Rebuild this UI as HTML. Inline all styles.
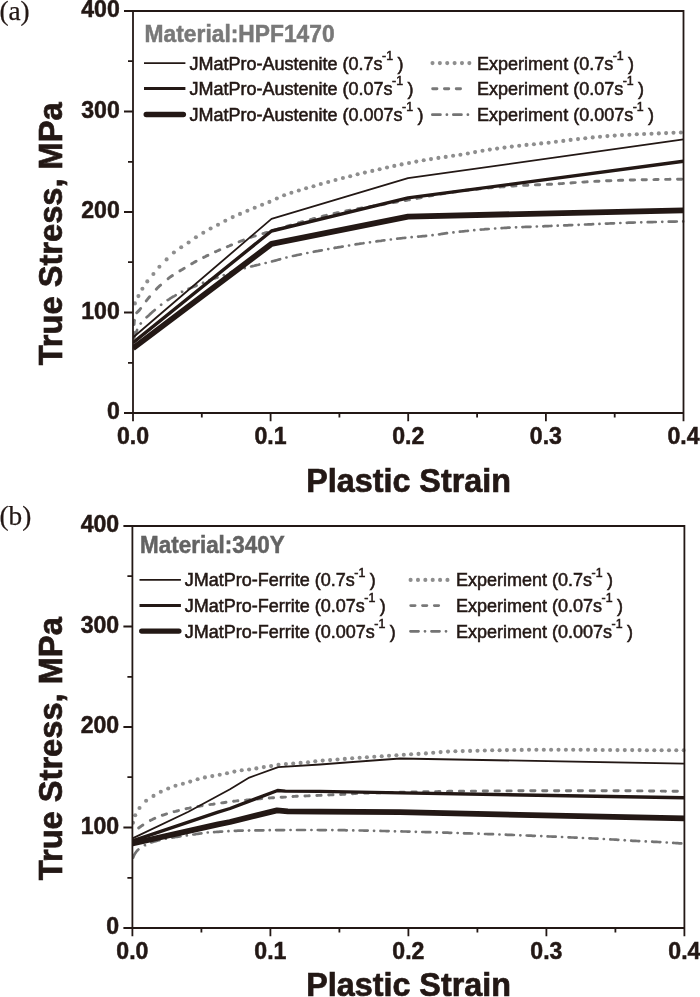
<!DOCTYPE html>
<html lang="en"><head><meta charset="utf-8"><title>True stress vs plastic strain</title>
<style>
html,body{margin:0;padding:0;background:#fff;}
body{width:700px;height:997px;overflow:hidden;}
svg{display:block;}
text{font-family:"Liberation Sans",Arial,Helvetica,sans-serif;fill:#231815;}
.tk{font-weight:bold;font-size:23.1px;stroke:#231815;stroke-width:0.5px;}
.ax{font-weight:bold;font-size:32.3px;stroke:#231815;stroke-width:0.7px;}
.ti{font-weight:bold;font-size:23.2px;stroke-width:0.5px;}
.lg{font-size:18px;stroke:#231815;stroke-width:0.55px;}
.sp{font-size:12.4px;}
.pl{font-family:"Liberation Serif","Times New Roman",serif;font-size:27.3px;stroke:#231815;stroke-width:0.25px;}
</style></head><body>
<svg width="700" height="997" viewBox="0 0 700 997">
<rect width="700" height="997" fill="#fff"/>
<text class="pl" x="-0.6" y="20.1">(a)</text>
<text class="pl" x="-0.6" y="525">(b)</text>
<clipPath id="ca"><rect x="133.0" y="11.0" width="551.7" height="402.0"/></clipPath>
<g clip-path="url(#ca)" fill="none">
<g fill="#8e8e8e" stroke="none"><circle cx="134.9" cy="303.4" r="2.05"/><circle cx="138.4" cy="296.1" r="2.05"/><circle cx="142.4" cy="288.7" r="2.05"/><circle cx="147.3" cy="281.4" r="2.05"/><circle cx="153.4" cy="274.0" r="2.05"/><circle cx="159.4" cy="266.7" r="2.05"/><circle cx="166.6" cy="259.4" r="2.05"/><circle cx="173.9" cy="252.5" r="2.05"/><circle cx="181.2" cy="247.3" r="2.05"/><circle cx="188.6" cy="242.5" r="2.05"/><circle cx="195.9" cy="237.3" r="2.05"/><circle cx="203.3" cy="232.7" r="2.05"/><circle cx="210.6" cy="228.5" r="2.05"/><circle cx="218.0" cy="224.7" r="2.05"/><circle cx="225.3" cy="220.8" r="2.05"/><circle cx="232.7" cy="217.1" r="2.05"/><circle cx="240.0" cy="213.9" r="2.05"/><circle cx="247.4" cy="210.8" r="2.05"/><circle cx="254.7" cy="207.8" r="2.05"/><circle cx="262.1" cy="204.7" r="2.05"/><circle cx="269.4" cy="201.9" r="2.05"/><circle cx="276.8" cy="198.5" r="2.05"/><circle cx="284.1" cy="195.3" r="2.05"/><circle cx="291.4" cy="192.8" r="2.05"/><circle cx="298.8" cy="190.5" r="2.05"/><circle cx="306.1" cy="188.3" r="2.05"/><circle cx="313.5" cy="186.2" r="2.05"/><circle cx="320.8" cy="184.0" r="2.05"/><circle cx="328.2" cy="182.0" r="2.05"/><circle cx="335.5" cy="180.0" r="2.05"/><circle cx="342.9" cy="178.0" r="2.05"/><circle cx="350.2" cy="176.2" r="2.05"/><circle cx="357.6" cy="174.3" r="2.05"/><circle cx="364.9" cy="172.6" r="2.05"/><circle cx="372.3" cy="170.9" r="2.05"/><circle cx="379.6" cy="169.2" r="2.05"/><circle cx="387.0" cy="167.5" r="2.05"/><circle cx="394.3" cy="165.9" r="2.05"/><circle cx="401.6" cy="164.4" r="2.05"/><circle cx="409.0" cy="163.0" r="2.05"/><circle cx="416.3" cy="161.6" r="2.05"/><circle cx="423.7" cy="160.3" r="2.05"/><circle cx="431.0" cy="159.1" r="2.05"/><circle cx="438.4" cy="157.9" r="2.05"/><circle cx="445.7" cy="156.9" r="2.05"/><circle cx="453.1" cy="155.8" r="2.05"/><circle cx="460.4" cy="154.7" r="2.05"/><circle cx="467.8" cy="153.5" r="2.05"/><circle cx="475.1" cy="152.1" r="2.05"/><circle cx="482.5" cy="150.8" r="2.05"/><circle cx="489.8" cy="149.6" r="2.05"/><circle cx="497.1" cy="148.6" r="2.05"/><circle cx="504.5" cy="147.6" r="2.05"/><circle cx="511.8" cy="146.6" r="2.05"/><circle cx="519.2" cy="145.7" r="2.05"/><circle cx="526.5" cy="144.9" r="2.05"/><circle cx="533.9" cy="144.2" r="2.05"/><circle cx="541.2" cy="143.4" r="2.05"/><circle cx="548.6" cy="142.7" r="2.05"/><circle cx="555.9" cy="141.8" r="2.05"/><circle cx="563.3" cy="140.9" r="2.05"/><circle cx="570.6" cy="139.9" r="2.05"/><circle cx="578.0" cy="139.1" r="2.05"/><circle cx="585.3" cy="138.2" r="2.05"/><circle cx="592.7" cy="137.4" r="2.05"/><circle cx="600.0" cy="136.7" r="2.05"/><circle cx="607.4" cy="136.1" r="2.05"/><circle cx="614.7" cy="135.6" r="2.05"/><circle cx="622.0" cy="135.1" r="2.05"/><circle cx="629.4" cy="134.7" r="2.05"/><circle cx="636.8" cy="134.3" r="2.05"/><circle cx="644.1" cy="134.0" r="2.05"/><circle cx="651.5" cy="133.7" r="2.05"/><circle cx="658.8" cy="133.4" r="2.05"/><circle cx="666.1" cy="133.1" r="2.05"/><circle cx="673.5" cy="132.8" r="2.05"/><circle cx="680.9" cy="132.5" r="2.05"/></g>
<path d="M133.5,336.4 L133.5,336.4 L133.5,334.8 L133.6,333.1 L133.6,332.1 M134.1,324.6 L134.1,324.5 L134.2,322.9 L134.3,321.3 L134.5,320.3 M136.7,312.8 L136.7,312.8 L137.9,311.6 L139.1,310.4 L140.1,309.2 L140.6,308.5 M146.2,301.0 L146.2,300.9 L147.2,299.7 L148.2,298.4 L149.2,297.2 L149.6,296.7 M156.3,289.2 L156.3,289.2 L157.4,288.0 L158.6,286.9 L159.7,285.8 L160.6,285.1 M168.1,278.7 L168.2,278.6 L169.4,277.7 L170.7,276.7 L172.0,275.8 L172.4,275.6 M179.9,271.0 L179.9,270.9 L181.3,270.1 L182.7,269.3 L184.0,268.4 L184.2,268.3 M191.7,263.8 L191.8,263.7 L193.2,262.9 L194.6,262.1 L196.0,261.4 L196.1,261.3 M203.6,257.4 L203.6,257.4 L205.1,256.7 L206.5,255.9 L207.9,255.3 M215.4,251.7 L215.6,251.7 L217.1,251.0 L218.6,250.4 L219.8,249.8 M227.3,246.7 L227.5,246.6 L229.0,246.0 L230.4,245.4 L231.6,244.9 M239.1,241.8 L239.3,241.7 L240.8,241.1 L242.3,240.5 L243.5,240.1 M251.0,237.3 L251.2,237.2 L252.7,236.7 L254.2,236.2 L255.3,235.9 M262.9,233.6 L262.9,233.6 L264.4,233.2 L266.0,232.7 L267.2,232.4 M274.7,230.1 L274.8,230.0 L276.4,229.6 L277.9,229.1 L279.0,228.8 M286.6,226.5 L286.6,226.5 L288.1,226.0 L289.6,225.5 L290.9,225.2 M298.4,223.0 L298.5,222.9 L300.1,222.5 L301.6,222.0 L302.7,221.7 M310.3,219.6 L310.3,219.6 L311.9,219.2 L313.4,218.7 L314.6,218.4 M322.1,216.4 L322.2,216.4 L323.7,216.0 L325.3,215.6 L326.4,215.3 M334.0,213.5 L334.1,213.5 L335.6,213.1 L337.2,212.8 L338.3,212.6 M345.8,211.0 L345.9,211.0 L347.4,210.7 L349.0,210.4 L350.1,210.2 M357.7,208.8 L357.7,208.8 L359.3,208.5 L360.9,208.2 L362.0,208.0 M369.5,206.7 L369.6,206.7 L371.2,206.4 L372.8,206.2 L373.8,206.0 M381.4,204.7 L381.5,204.7 L383.1,204.4 L384.7,204.1 L385.7,203.9 M393.2,202.6 L393.4,202.6 L394.9,202.3 L396.5,202.0 L397.5,201.8 M405.1,200.5 L405.2,200.5 L406.8,200.2 L408.4,199.9 L409.4,199.8 M416.9,198.4 L417.1,198.3 L418.7,198.0 L420.3,197.7 L421.2,197.6 M428.8,196.1 L429.0,196.1 L430.5,195.8 L432.1,195.5 L433.1,195.3 M440.6,194.1 L440.6,194.1 L442.2,193.8 L443.8,193.5 L444.9,193.4 M452.5,192.2 L452.6,192.2 L454.1,191.9 L455.7,191.7 L456.8,191.5 M464.3,190.5 L464.5,190.5 L466.1,190.3 L467.7,190.1 L468.6,190.0 M476.2,189.2 L476.3,189.2 L477.9,189.0 L479.5,188.8 L480.5,188.7 M488.0,188.0 L488.1,188.0 L489.7,187.9 L491.3,187.7 L492.3,187.6 M499.9,187.0 L499.9,187.0 L501.5,186.9 L503.1,186.8 L504.2,186.7 M511.7,186.1 L511.9,186.1 L513.5,186.0 L515.1,185.9 L516.0,185.8 M523.6,185.4 L523.8,185.4 L525.4,185.3 L527.0,185.2 L527.9,185.2 M535.4,184.9 L535.6,184.9 L537.2,184.8 L538.8,184.8 L539.7,184.7 M547.3,184.4 L547.5,184.4 L549.1,184.3 L550.7,184.3 L551.6,184.2 M559.1,183.7 L559.3,183.7 L560.9,183.6 L562.5,183.5 L563.5,183.4 M571.0,182.9 L571.1,182.8 L572.7,182.7 L574.3,182.6 L575.3,182.6 M582.8,182.1 L583.0,182.1 L584.6,182.0 L586.2,181.9 L587.2,181.8 M594.7,181.4 L594.8,181.4 L596.4,181.3 L598.0,181.2 L599.0,181.2 M606.5,180.8 L606.6,180.8 L608.2,180.7 L609.9,180.7 L610.9,180.6 M618.4,180.4 L618.5,180.4 L620.1,180.3 L621.7,180.3 L622.7,180.2 M630.2,180.0 L630.3,180.0 L631.9,180.0 L633.6,180.0 L634.6,179.9 M642.1,179.8 L642.2,179.8 L643.8,179.7 L645.4,179.7 L646.4,179.7 M653.9,179.6 L653.9,179.6 L655.5,179.5 L657.1,179.5 L658.1,179.5 M665.6,179.4 L665.7,179.4 L667.3,179.4 L668.9,179.4 L670.0,179.3 M677.5,179.3 L677.6,179.3 L679.2,179.2 L680.8,179.2 L681.8,179.2" stroke="#787878" stroke-width="2.9" stroke-linecap="round"/>
<path d="M134.0,338.1 L134.1,337.9 L134.6,336.4 L135.1,335.0 L135.6,333.5 L136.2,332.1 L136.8,330.7 L137.1,330.0 M140.7,323.6 L140.7,323.6 L140.8,323.5 M146.6,317.3 L146.7,317.2 L147.8,316.2 L149.0,315.2 L150.1,314.1 L151.3,313.1 L152.4,312.0 L153.6,311.0 L154.8,310.0 M161.1,304.8 L161.2,304.7 L161.2,304.7 M167.6,300.1 L167.7,300.1 L169.0,299.3 L170.3,298.4 L171.6,297.6 L172.9,296.8 L174.3,296.1 L175.6,295.3 L175.7,295.2 M182.1,291.9 L182.1,291.8 L182.2,291.8 M188.5,288.9 L188.6,288.9 L190.1,288.3 L191.5,287.7 L192.9,287.1 L194.3,286.5 L195.8,285.9 L196.6,285.5 M203.0,282.9 L203.1,282.8 M209.4,280.3 L209.6,280.2 L211.0,279.7 L212.5,279.1 L213.9,278.6 L215.4,278.1 L216.8,277.6 L217.5,277.4 M223.8,275.3 L223.9,275.2 M230.3,272.7 L230.3,272.7 L231.7,272.1 L233.2,271.5 L234.6,271.0 L236.1,270.5 L237.5,270.1 L238.3,269.8 M244.7,268.2 L244.8,268.2 M251.1,266.5 L251.2,266.5 L252.7,266.1 L254.2,265.8 L255.7,265.4 L257.2,265.0 L258.7,264.7 L259.2,264.5 M265.6,263.0 L265.7,263.0 M272.0,261.4 L272.1,261.4 L273.6,261.0 L275.1,260.6 L276.6,260.2 L278.1,259.8 L279.6,259.4 L280.1,259.2 M286.4,257.5 L286.5,257.5 L286.5,257.5 M292.9,256.0 L292.9,256.0 L294.4,255.7 L295.9,255.4 L297.4,255.0 L298.9,254.7 L300.5,254.4 L300.9,254.3 M307.3,253.0 L307.4,253.0 M313.8,251.8 L313.9,251.7 L315.5,251.4 L317.0,251.2 L318.5,250.9 L320.0,250.6 L321.6,250.3 L321.8,250.3 M328.2,249.1 L328.2,249.1 L328.3,249.1 M334.6,248.0 L334.7,247.9 L336.2,247.7 L337.7,247.4 L339.3,247.1 L340.8,246.9 L342.3,246.6 L342.7,246.6 M349.0,245.5 L349.1,245.5 M355.5,244.4 L355.5,244.4 L357.0,244.2 L358.6,244.0 L360.1,243.7 L361.6,243.5 L363.2,243.3 L363.5,243.2 M369.9,242.3 L370.0,242.3 M376.4,241.4 L376.4,241.4 L377.9,241.2 L379.4,241.0 L381.0,240.8 L382.5,240.5 L384.0,240.3 L384.4,240.3 M390.8,239.5 L390.9,239.5 M397.2,238.7 L397.3,238.7 L398.8,238.5 L400.4,238.3 L401.9,238.2 L403.4,238.0 L405.0,237.8 L405.3,237.8 M411.6,237.2 L411.7,237.2 L411.7,237.2 M418.1,236.6 L418.3,236.6 L419.8,236.5 L421.4,236.3 L422.9,236.2 L424.5,236.1 L426.0,235.9 L426.1,235.9 M432.5,235.2 L432.5,235.2 L432.6,235.2 M439.0,234.3 L439.1,234.3 L440.6,234.1 L442.1,233.8 L443.7,233.6 L445.2,233.4 L446.7,233.2 L447.0,233.1 M453.4,232.4 L453.4,232.4 L453.5,232.4 M459.8,231.7 L460.0,231.7 L461.5,231.5 L463.1,231.3 L464.6,231.2 L466.1,231.0 L467.7,230.9 L467.9,230.8 M474.2,230.2 L474.3,230.2 M480.7,229.6 L480.8,229.6 L482.3,229.5 L483.9,229.4 L485.4,229.2 L487.0,229.1 L488.5,229.0 L488.7,229.0 M495.1,228.5 L495.2,228.5 M501.6,228.1 L501.6,228.1 L503.2,228.0 L504.7,227.9 L506.3,227.8 L507.8,227.7 L509.4,227.7 L509.6,227.6 M516.0,227.3 L516.1,227.3 M522.4,227.1 L522.5,227.1 L524.0,227.0 L525.6,226.9 L527.1,226.9 L528.7,226.8 L530.2,226.8 L530.5,226.8 M536.8,226.5 L536.9,226.5 M543.3,226.3 L543.4,226.3 L544.9,226.2 L546.5,226.1 L548.0,226.1 L549.6,226.0 L551.1,226.0 L551.4,225.9 M557.7,225.7 L557.8,225.7 M564.2,225.4 L564.3,225.4 L565.8,225.3 L567.4,225.3 L568.9,225.2 L570.5,225.1 L572.0,225.1 L572.2,225.1 M578.6,224.8 L578.6,224.8 L578.7,224.8 M585.0,224.5 L585.2,224.5 L586.7,224.5 L588.3,224.4 L589.8,224.3 L591.3,224.3 L592.9,224.2 L593.1,224.2 M599.4,223.9 L599.5,223.9 L599.5,223.9 M605.9,223.6 L606.0,223.6 L607.6,223.6 L609.1,223.5 L610.7,223.4 L612.2,223.4 L613.8,223.3 L614.0,223.3 M620.3,223.0 L620.4,223.0 L620.4,223.0 M626.8,222.8 L626.9,222.8 L628.5,222.7 L630.0,222.7 L631.6,222.6 L633.1,222.6 L634.7,222.5 L634.8,222.5 M641.2,222.3 L641.3,222.3 M647.7,222.2 L647.8,222.2 L649.4,222.1 L650.9,222.1 L652.5,222.1 L654.0,222.0 L655.6,222.0 L655.8,222.0 M662.2,221.8 L662.3,221.8 L662.3,221.8 M668.7,221.7 L668.9,221.7 L670.5,221.7 L672.0,221.6 L673.6,221.6 L675.1,221.6 L676.6,221.5 L676.8,221.5 M683.2,221.4 L683.3,221.4" stroke="#747474" stroke-width="2.7" stroke-linecap="round"/>
<path d="M133.0,337.5 L271.5,218.9 L408.0,178.2 L683.5,139.3" stroke="#231815" stroke-width="1.8" stroke-linejoin="round"/>
<path d="M133.0,342.8 L271.5,231.0 L408.0,197.9 L683.5,161.3" stroke="#231815" stroke-width="3.4" stroke-linejoin="round"/>
<path d="M133.0,348.3 L271.5,243.9 L408.0,216.6 L683.5,210.3" stroke="#231815" stroke-width="5.8" stroke-linejoin="round"/>
</g>
<path d="M124.0,11.0 H683.5 V421.2 M124.0,413.0 H683.5 M133.0,11.0 V421.2" fill="none" stroke="#231815" stroke-width="1.8"/>
<path d="M124.0,312.5 H133.0 M124.0,212.0 H133.0 M124.0,111.5 H133.0 M128.0,362.8 H133.0 M128.0,262.2 H133.0 M128.0,161.8 H133.0 M128.0,61.2 H133.0 M270.6,413.0 V421.2 M408.2,413.0 V421.2 M545.9,413.0 V421.2 M201.8,413.0 V417.5 M339.4,413.0 V417.5 M477.1,413.0 V417.5 M614.7,413.0 V417.5" fill="none" stroke="#231815" stroke-width="1.8"/>
<text class="tk" text-anchor="end" x="119.8" y="419.2">0</text>
<text class="tk" text-anchor="end" x="119.8" y="318.7">100</text>
<text class="tk" text-anchor="end" x="119.8" y="218.2">200</text>
<text class="tk" text-anchor="end" x="119.8" y="117.7">300</text>
<text class="tk" text-anchor="end" x="119.8" y="17.2">400</text>
<text class="tk" text-anchor="middle" x="133.0" y="444.0">0.0</text>
<text class="tk" text-anchor="middle" x="270.6" y="444.0">0.1</text>
<text class="tk" text-anchor="middle" x="408.2" y="444.0">0.2</text>
<text class="tk" text-anchor="middle" x="545.9" y="444.0">0.3</text>
<text class="tk" text-anchor="middle" x="683.5" y="444.0">0.4</text>
<clipPath id="cb"><rect x="132.4" y="526.0" width="553.2" height="402.0"/></clipPath>
<g clip-path="url(#cb)" fill="none">
<g fill="#8e8e8e" stroke="none"><circle cx="133.0" cy="822.7" r="2.05"/><circle cx="135.2" cy="815.3" r="2.05"/><circle cx="139.5" cy="808.0" r="2.05"/><circle cx="146.1" cy="800.8" r="2.05"/><circle cx="153.5" cy="795.9" r="2.05"/><circle cx="160.8" cy="791.7" r="2.05"/><circle cx="168.2" cy="788.5" r="2.05"/><circle cx="175.5" cy="785.7" r="2.05"/><circle cx="182.9" cy="783.8" r="2.05"/><circle cx="190.2" cy="781.6" r="2.05"/><circle cx="197.6" cy="779.2" r="2.05"/><circle cx="204.9" cy="777.4" r="2.05"/><circle cx="212.3" cy="776.1" r="2.05"/><circle cx="219.7" cy="774.7" r="2.05"/><circle cx="227.0" cy="773.2" r="2.05"/><circle cx="234.4" cy="771.6" r="2.05"/><circle cx="241.7" cy="770.3" r="2.05"/><circle cx="249.1" cy="769.5" r="2.05"/><circle cx="256.4" cy="768.4" r="2.05"/><circle cx="263.8" cy="767.1" r="2.05"/><circle cx="271.1" cy="766.1" r="2.05"/><circle cx="278.5" cy="764.8" r="2.05"/><circle cx="285.9" cy="764.1" r="2.05"/><circle cx="293.2" cy="763.5" r="2.05"/><circle cx="300.6" cy="762.9" r="2.05"/><circle cx="308.0" cy="762.2" r="2.05"/><circle cx="315.3" cy="761.3" r="2.05"/><circle cx="322.7" cy="760.6" r="2.05"/><circle cx="330.1" cy="760.1" r="2.05"/><circle cx="337.5" cy="759.5" r="2.05"/><circle cx="344.8" cy="758.9" r="2.05"/><circle cx="352.2" cy="758.3" r="2.05"/><circle cx="359.6" cy="757.8" r="2.05"/><circle cx="366.9" cy="757.2" r="2.05"/><circle cx="374.3" cy="756.7" r="2.05"/><circle cx="381.7" cy="756.2" r="2.05"/><circle cx="389.0" cy="755.7" r="2.05"/><circle cx="396.4" cy="755.2" r="2.05"/><circle cx="403.8" cy="754.8" r="2.05"/><circle cx="411.1" cy="754.3" r="2.05"/><circle cx="418.5" cy="753.9" r="2.05"/><circle cx="425.9" cy="753.4" r="2.05"/><circle cx="433.2" cy="752.7" r="2.05"/><circle cx="440.6" cy="752.1" r="2.05"/><circle cx="448.0" cy="751.6" r="2.05"/><circle cx="455.4" cy="751.3" r="2.05"/><circle cx="462.7" cy="751.1" r="2.05"/><circle cx="470.1" cy="750.9" r="2.05"/><circle cx="477.5" cy="750.7" r="2.05"/><circle cx="484.8" cy="750.5" r="2.05"/><circle cx="492.2" cy="750.3" r="2.05"/><circle cx="499.6" cy="750.2" r="2.05"/><circle cx="506.9" cy="750.1" r="2.05"/><circle cx="514.3" cy="750.0" r="2.05"/><circle cx="521.7" cy="749.9" r="2.05"/><circle cx="529.0" cy="749.8" r="2.05"/><circle cx="536.4" cy="749.8" r="2.05"/><circle cx="543.8" cy="749.8" r="2.05"/><circle cx="551.1" cy="749.7" r="2.05"/><circle cx="558.5" cy="749.7" r="2.05"/><circle cx="565.9" cy="749.7" r="2.05"/><circle cx="573.2" cy="749.7" r="2.05"/><circle cx="580.6" cy="749.7" r="2.05"/><circle cx="588.0" cy="749.8" r="2.05"/><circle cx="595.4" cy="749.9" r="2.05"/><circle cx="602.7" cy="750.0" r="2.05"/><circle cx="610.1" cy="750.0" r="2.05"/><circle cx="617.5" cy="750.1" r="2.05"/><circle cx="624.8" cy="750.1" r="2.05"/><circle cx="632.2" cy="750.1" r="2.05"/><circle cx="639.6" cy="750.1" r="2.05"/><circle cx="646.9" cy="750.2" r="2.05"/><circle cx="654.3" cy="750.2" r="2.05"/><circle cx="661.6" cy="750.2" r="2.05"/><circle cx="669.0" cy="750.2" r="2.05"/><circle cx="676.3" cy="750.2" r="2.05"/><circle cx="683.7" cy="750.2" r="2.05"/></g>
<path d="M138.7,827.9 L138.8,827.8 L140.0,827.0 L141.2,826.1 L142.5,825.3 L142.9,825.0 M150.4,820.4 L150.6,820.3 L151.9,819.7 L153.2,819.0 L154.6,818.4 L154.8,818.3 M162.2,815.3 L162.4,815.3 L163.8,814.8 L165.2,814.3 L166.6,813.9 M174.1,811.8 L174.1,811.7 L175.6,811.4 L177.0,811.0 L178.5,810.6 M186.0,808.7 L186.1,808.7 L187.5,808.4 L189.0,808.1 L190.3,807.8 M197.9,806.4 L197.9,806.4 L199.4,806.2 L200.9,805.9 L202.2,805.7 M209.8,804.6 L209.9,804.6 L211.4,804.4 L212.9,804.2 L214.1,804.0 M221.7,802.9 L221.7,802.9 L223.2,802.7 L224.7,802.5 L226.0,802.3 M233.6,801.3 L233.7,801.2 L235.2,801.1 L236.7,800.9 L237.9,800.8 M245.5,800.1 L245.6,800.1 L247.0,800.0 L248.5,799.9 L249.8,799.7 M257.4,799.0 L257.4,799.0 L258.9,798.9 L260.4,798.7 L261.7,798.6 M269.2,798.0 L269.3,798.0 L270.8,797.9 L272.3,797.8 L273.6,797.7 M281.1,797.3 L281.2,797.3 L282.7,797.2 L284.2,797.1 L285.5,797.1 M293.0,796.5 L293.1,796.4 L294.6,796.4 L296.1,796.3 L297.3,796.2 M304.9,796.0 L305.0,796.0 L306.5,795.9 L308.0,795.9 L309.2,795.8 M316.8,795.5 L316.9,795.5 L318.4,795.4 L319.9,795.4 L321.1,795.3 M328.7,795.0 L328.8,795.0 L330.3,794.9 L331.8,794.9 L333.0,794.8 M340.6,794.5 L340.7,794.5 L342.2,794.4 L343.7,794.3 L344.9,794.2 M352.4,793.7 L352.6,793.7 L354.1,793.6 L355.6,793.5 L356.8,793.4 M364.3,793.1 L364.3,793.1 L365.8,793.1 L367.3,793.1 L368.6,793.0 M376.2,792.8 L376.2,792.8 L377.7,792.8 L379.2,792.7 L380.5,792.7 M388.1,792.6 L388.1,792.6 L389.6,792.5 L391.1,792.5 L392.4,792.5 M400.0,792.3 L400.1,792.3 L401.6,792.3 L403.0,792.2 L404.3,792.2 M411.9,792.0 L412.0,792.0 L413.5,792.0 L415.0,792.0 L416.2,792.0 M423.7,791.8 L423.9,791.8 L425.4,791.8 L426.9,791.7 L428.1,791.7 M435.6,791.6 L435.6,791.6 L437.1,791.6 L438.6,791.5 L439.9,791.5 M447.5,791.4 L447.5,791.4 L449.0,791.3 L450.5,791.3 L451.8,791.3 M459.4,791.2 L459.5,791.2 L460.9,791.2 L462.4,791.2 L463.7,791.2 M471.3,791.1 L471.4,791.1 L472.9,791.1 L474.4,791.1 L475.6,791.1 M483.2,791.0 L483.3,791.0 L484.8,791.0 L486.3,791.0 L487.5,791.0 M495.0,790.9 L495.2,790.9 L496.7,790.9 L498.2,790.9 L499.4,790.9 M506.9,790.9 L506.9,790.9 L508.4,790.9 L509.9,790.9 L511.2,790.9 M518.8,790.8 L518.9,790.8 L520.3,790.8 L521.8,790.8 L523.1,790.8 M530.7,790.8 L530.8,790.8 L532.3,790.8 L533.8,790.8 L535.0,790.8 M542.6,790.8 L542.7,790.8 L544.2,790.8 L545.7,790.8 L546.9,790.8 M554.5,790.8 L554.6,790.8 L556.1,790.7 L557.6,790.7 L558.8,790.7 M566.3,790.7 L566.3,790.7 L567.8,790.7 L569.3,790.7 L570.7,790.7 M578.2,790.7 L578.3,790.7 L579.8,790.7 L581.2,790.7 L582.5,790.7 M590.1,790.7 L590.2,790.7 L591.7,790.7 L593.2,790.7 L594.4,790.7 M602.0,790.7 L602.1,790.7 L603.6,790.7 L605.1,790.7 L606.3,790.7 M613.9,790.7 L614.0,790.7 L615.5,790.7 L617.0,790.7 L618.2,790.7 M625.8,790.8 L625.9,790.8 L627.4,790.8 L628.9,790.8 L630.1,790.8 M637.6,790.9 L637.7,790.9 L639.2,790.9 L640.6,790.9 L642.0,790.9 M649.5,791.0 L649.6,791.0 L651.1,791.0 L652.6,791.0 L653.8,791.0 M661.2,791.1 L661.3,791.1 L662.8,791.1 L664.3,791.1 L665.5,791.2 M673.0,791.3 L673.2,791.3 L674.7,791.3 L676.2,791.3 L677.4,791.3" stroke="#787878" stroke-width="2.9" stroke-linecap="round"/>
<path d="M133.2,857.5 L133.2,857.5 L133.7,856.1 L134.4,854.7 L135.1,853.4 L135.9,852.2 L136.8,851.1 L137.8,850.0 L138.4,849.5 M144.8,845.1 L144.9,845.1 L144.9,845.0 M151.3,842.4 L151.4,842.4 L152.9,841.9 L154.3,841.5 L155.8,841.1 L157.2,840.7 L158.7,840.3 L159.4,840.1 M165.8,838.7 L165.9,838.7 L165.9,838.7 M172.3,837.6 L172.5,837.5 L174.0,837.3 L175.5,837.0 L176.9,836.8 L178.4,836.6 L179.9,836.4 L180.4,836.3 M186.8,835.4 L186.9,835.4 L186.9,835.4 M193.3,834.5 L193.4,834.5 L194.9,834.3 L196.4,834.0 L197.8,833.8 L199.3,833.6 L200.8,833.4 L201.4,833.3 M207.7,832.5 L207.8,832.5 M214.1,832.1 L214.1,832.1 L215.6,832.0 L217.1,831.9 L218.6,831.8 L220.1,831.7 L221.6,831.6 L222.1,831.6 M228.4,831.2 L228.5,831.2 M234.8,830.8 L234.8,830.8 L236.3,830.8 L237.8,830.7 L239.3,830.7 L240.8,830.6 L242.2,830.6 L242.7,830.6 M249.0,830.5 L249.1,830.4 M255.4,830.4 L255.5,830.4 L257.0,830.3 L258.5,830.3 L260.0,830.3 L261.4,830.3 L262.9,830.3 L263.4,830.3 M269.7,830.2 L269.8,830.2 M276.1,830.1 L276.2,830.1 L277.7,830.1 L279.1,830.1 L280.6,830.1 L282.1,830.1 L283.6,830.1 L284.1,830.1 M290.5,830.0 L290.5,830.0 L290.6,830.0 M297.0,830.0 L297.0,830.0 L298.5,830.0 L300.0,830.0 L301.5,830.0 L303.0,830.0 L304.5,830.0 L305.0,830.0 M311.4,830.0 L311.4,830.0 L311.5,830.0 M317.8,830.0 L317.9,830.0 L319.4,830.1 L320.9,830.1 L322.4,830.1 L323.9,830.1 L325.4,830.1 L325.9,830.1 M332.3,830.1 L332.4,830.1 M338.7,830.2 L338.8,830.2 L340.3,830.2 L341.8,830.2 L343.3,830.2 L344.7,830.2 L346.2,830.3 L346.8,830.3 M353.2,830.4 L353.3,830.4 M359.6,830.5 L359.7,830.5 L361.1,830.5 L362.6,830.5 L364.1,830.6 L365.6,830.6 L367.1,830.6 L367.7,830.6 M374.0,830.8 L374.1,830.8 M380.5,830.9 L380.5,830.9 L382.0,831.0 L383.5,831.0 L385.0,831.0 L386.5,831.1 L388.0,831.1 L388.6,831.1 M394.9,831.3 L395.0,831.3 M401.4,831.4 L401.6,831.4 L403.1,831.5 L404.6,831.5 L406.1,831.5 L407.5,831.6 L409.0,831.6 L409.5,831.6 M415.8,831.8 L415.9,831.8 M422.3,832.0 L422.4,832.0 L423.9,832.0 L425.4,832.1 L426.9,832.1 L428.4,832.1 L429.9,832.2 L430.3,832.2 M436.7,832.4 L436.8,832.4 L436.8,832.4 M443.2,832.6 L443.3,832.6 L444.8,832.6 L446.3,832.7 L447.8,832.7 L449.3,832.8 L450.8,832.8 L451.2,832.8 M457.6,833.0 L457.7,833.0 L457.7,833.0 M464.1,833.2 L464.2,833.3 L465.7,833.3 L467.2,833.3 L468.6,833.4 L470.1,833.4 L471.6,833.5 L472.1,833.5 M478.5,833.7 L478.5,833.7 L478.6,833.7 M485.0,834.0 L485.0,834.0 L486.5,834.0 L488.0,834.1 L489.5,834.1 L491.0,834.2 L492.5,834.2 L493.0,834.2 M499.4,834.5 L499.4,834.5 L499.5,834.5 M505.8,834.7 L505.9,834.7 L507.4,834.8 L508.9,834.8 L510.4,834.9 L511.9,834.9 L513.3,835.0 L513.9,835.0 M520.3,835.3 L520.4,835.3 M526.7,835.5 L526.8,835.5 L528.2,835.6 L529.7,835.6 L531.2,835.7 L532.7,835.8 L534.2,835.8 L534.8,835.8 M541.2,836.1 L541.3,836.1 M547.6,836.4 L547.8,836.4 L549.3,836.5 L550.8,836.5 L552.3,836.6 L553.8,836.6 L555.2,836.7 L555.7,836.7 M562.0,837.0 L562.1,837.0 L562.1,837.0 M568.5,837.3 L568.7,837.3 L570.1,837.4 L571.6,837.5 L573.1,837.5 L574.6,837.6 L576.1,837.7 L576.6,837.7 M582.9,838.0 L583.0,838.0 L583.0,838.0 M589.4,838.3 L589.5,838.3 L591.0,838.4 L592.5,838.5 L594.0,838.5 L595.5,838.6 L596.9,838.7 L597.5,838.7 M603.8,839.0 L603.8,839.0 L603.9,839.0 M610.3,839.4 L610.3,839.4 L611.8,839.5 L613.3,839.5 L614.8,839.6 L616.3,839.7 L617.8,839.8 L618.3,839.8 M624.7,840.2 L624.8,840.3 M631.2,840.7 L631.2,840.7 L632.7,840.8 L634.2,840.8 L635.6,840.9 L637.1,841.0 L638.6,841.1 L639.2,841.1 M645.7,841.4 L645.7,841.4 L645.8,841.4 M652.2,841.7 L652.2,841.7 L653.7,841.8 L655.2,841.9 L656.7,841.9 L658.2,842.0 L659.7,842.1 L660.3,842.1 M666.7,842.5 L666.7,842.5 L666.8,842.5 M673.2,842.9 L673.2,842.9 L674.7,843.0 L676.2,843.1 L677.7,843.2 L679.2,843.3 L680.7,843.4 L681.3,843.4" stroke="#747474" stroke-width="2.7" stroke-linecap="round"/>
<path d="M132.5,838.4 L188.4,811.8 L230.0,789.2 L249.3,777.6 L278.2,767.1 L320.0,764.5 L400.0,758.5 L684.4,763.7" stroke="#231815" stroke-width="1.8" stroke-linejoin="round"/>
<path d="M132.5,841.0 L218.0,812.2 L230.0,808.5 L277.6,790.5 L285.3,791.1 L320.0,791.4 L400.0,792.9 L684.4,797.8" stroke="#231815" stroke-width="3.4" stroke-linejoin="round"/>
<path d="M132.5,843.5 L218.0,824.3 L230.0,822.0 L277.0,810.4 L287.8,811.4 L320.0,811.7 L400.0,812.2 L684.4,818.4" stroke="#231815" stroke-width="5.8" stroke-linejoin="round"/>
</g>
<path d="M123.4,526.0 H684.4 V936.2 M123.4,928.0 H684.4 M132.4,526.0 V936.2" fill="none" stroke="#231815" stroke-width="1.8"/>
<path d="M123.4,827.5 H132.4 M123.4,727.0 H132.4 M123.4,626.5 H132.4 M127.4,877.8 H132.4 M127.4,777.2 H132.4 M127.4,676.8 H132.4 M127.4,576.2 H132.4 M270.4,928.0 V936.2 M408.4,928.0 V936.2 M546.4,928.0 V936.2 M201.4,928.0 V932.5 M339.4,928.0 V932.5 M477.4,928.0 V932.5 M615.4,928.0 V932.5" fill="none" stroke="#231815" stroke-width="1.8"/>
<text class="tk" text-anchor="end" x="119.2" y="934.2">0</text>
<text class="tk" text-anchor="end" x="119.2" y="833.7">100</text>
<text class="tk" text-anchor="end" x="119.2" y="733.2">200</text>
<text class="tk" text-anchor="end" x="119.2" y="632.7">300</text>
<text class="tk" text-anchor="end" x="119.2" y="532.2">400</text>
<text class="tk" text-anchor="middle" x="132.4" y="959.0">0.0</text>
<text class="tk" text-anchor="middle" x="270.4" y="959.0">0.1</text>
<text class="tk" text-anchor="middle" x="408.4" y="959.0">0.2</text>
<text class="tk" text-anchor="middle" x="546.4" y="959.0">0.3</text>
<text class="tk" text-anchor="middle" x="684.4" y="959.0">0.4</text>
<text class="ti" style="fill:#787878;stroke:#787878" x="144.6" y="41.6" textLength="190.0" lengthAdjust="spacingAndGlyphs">Material:HPF1470</text>
<path d="M144.0,63.1 H185.4" stroke="#231815" stroke-width="1.7"/>
<text class="lg" x="189.5" y="69.5">JMatPro-Austenite (0.7s<tspan class="sp" dy="-9.8" dx="-0.5">-1</tspan><tspan dy="9.8" dx="-0.7"> )</tspan></text>
<text class="lg" x="477.1" y="69.5">Experiment (0.7s<tspan class="sp" dy="-9.8" dx="-0.5">-1</tspan><tspan dy="9.8" dx="-0.7"> )</tspan></text>
<path d="M144.0,88.6 H185.4" stroke="#231815" stroke-width="3.0"/>
<text class="lg" x="189.5" y="95.2">JMatPro-Austenite (0.07s<tspan class="sp" dy="-9.8" dx="-0.5">-1</tspan><tspan dy="9.8" dx="-0.7"> )</tspan></text>
<text class="lg" x="477.1" y="95.2">Experiment (0.07s<tspan class="sp" dy="-9.8" dx="-0.5">-1</tspan><tspan dy="9.8" dx="-0.7"> )</tspan></text>
<path d="M146.2,114.5 H183.4" stroke="#231815" stroke-width="5.3" stroke-linecap="round"/>
<text class="lg" x="189.5" y="120.9">JMatPro-Austenite (0.007s<tspan class="sp" dy="-9.8" dx="-0.5">-1</tspan><tspan dy="9.8" dx="-0.7"> )</tspan></text>
<text class="lg" x="477.1" y="120.9">Experiment (0.007s<tspan class="sp" dy="-9.8" dx="-0.5">-1</tspan><tspan dy="9.8" dx="-0.7"> )</tspan></text>
<g fill="#8e8e8e"><circle cx="432.50" cy="63.1" r="2.05"/><circle cx="439.87" cy="63.1" r="2.05"/><circle cx="447.24" cy="63.1" r="2.05"/><circle cx="454.61" cy="63.1" r="2.05"/><circle cx="461.98" cy="63.1" r="2.05"/><circle cx="469.35" cy="63.1" r="2.05"/></g>
<path d="M432.65,88.8 h4.3 m7.5,0 h4.3 m7.5,0 h4.3" stroke="#787878" stroke-width="2.9" stroke-linecap="round" fill="none"/>
<path d="M432.35,114.7 h8.1 m6.4,0 h0.1 m6.4,0 h8.1 m6.4,0 h0.1" stroke="#747474" stroke-width="2.7" stroke-linecap="round" fill="none"/>
<text class="ti" style="fill:#636363;stroke:#636363" x="140.1" y="552.7" textLength="144.6" lengthAdjust="spacingAndGlyphs">Material:340Y</text>
<path d="M139.5,579.9 H180.9" stroke="#231815" stroke-width="1.7"/>
<text class="lg" x="184.8" y="586.3">JMatPro-Ferrite (0.7s<tspan class="sp" dy="-9.8" dx="-0.5">-1</tspan><tspan dy="9.8" dx="-0.7"> )</tspan></text>
<text class="lg" x="456.0" y="586.3">Experiment (0.7s<tspan class="sp" dy="-9.8" dx="-0.5">-1</tspan><tspan dy="9.8" dx="-0.7"> )</tspan></text>
<path d="M139.5,605.4 H180.9" stroke="#231815" stroke-width="3.0"/>
<text class="lg" x="184.8" y="612.0">JMatPro-Ferrite (0.07s<tspan class="sp" dy="-9.8" dx="-0.5">-1</tspan><tspan dy="9.8" dx="-0.7"> )</tspan></text>
<text class="lg" x="456.0" y="612.0">Experiment (0.07s<tspan class="sp" dy="-9.8" dx="-0.5">-1</tspan><tspan dy="9.8" dx="-0.7"> )</tspan></text>
<path d="M141.7,631.1 H178.9" stroke="#231815" stroke-width="5.3" stroke-linecap="round"/>
<text class="lg" x="184.8" y="637.6">JMatPro-Ferrite (0.007s<tspan class="sp" dy="-9.8" dx="-0.5">-1</tspan><tspan dy="9.8" dx="-0.7"> )</tspan></text>
<text class="lg" x="456.0" y="637.6">Experiment (0.007s<tspan class="sp" dy="-9.8" dx="-0.5">-1</tspan><tspan dy="9.8" dx="-0.7"> )</tspan></text>
<g fill="#8e8e8e"><circle cx="410.60" cy="579.9" r="2.05"/><circle cx="417.97" cy="579.9" r="2.05"/><circle cx="425.34" cy="579.9" r="2.05"/><circle cx="432.71" cy="579.9" r="2.05"/><circle cx="440.08" cy="579.9" r="2.05"/><circle cx="447.45" cy="579.9" r="2.05"/></g>
<path d="M410.75,605.6 h4.3 m7.5,0 h4.3 m7.5,0 h4.3" stroke="#787878" stroke-width="2.9" stroke-linecap="round" fill="none"/>
<path d="M410.45,631.3 h8.1 m6.4,0 h0.1 m6.4,0 h8.1 m6.4,0 h0.1" stroke="#747474" stroke-width="2.7" stroke-linecap="round" fill="none"/>
<text class="ax" text-anchor="middle" x="408.6" y="491.6">Plastic Strain</text>
<text class="ax" text-anchor="middle" x="408.6" y="996.3">Plastic Strain</text>
<text class="ax" transform="translate(62.0,365.3) rotate(-90)" textLength="263" lengthAdjust="spacingAndGlyphs">True Stress, MPa</text>
<text class="ax" transform="translate(62.0,880.2) rotate(-90)" textLength="263" lengthAdjust="spacingAndGlyphs">True Stress, MPa</text>
</svg>
</body></html>
